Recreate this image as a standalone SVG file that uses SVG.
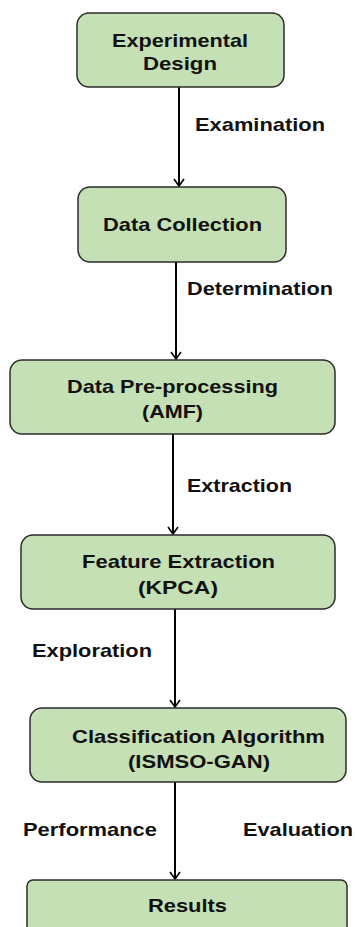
<svg xmlns="http://www.w3.org/2000/svg" width="355" height="927" viewBox="0 0 355 927">
  <defs>
    <marker id="arrow" viewBox="0 0 10 12" refX="9" refY="6" markerWidth="10" markerHeight="12" markerUnits="userSpaceOnUse" orient="auto">
      <polyline points="2,1 9,6 2,11" fill="none" stroke="#000" stroke-width="1.6"/>
    </marker>
  </defs>
  <style>
    .box { fill: #c5e0b4; stroke: #2b2b2b; stroke-width: 1.5; }
    .t { font-family: "Liberation Sans", Arial, sans-serif; font-weight: bold; font-size: 19px; fill: #111; }
    .edge { stroke: #000; stroke-width: 2; fill: none; }
  </style>
  <rect width="355" height="927" fill="#ffffff"/>

  <g id="connectors">
    <line class="edge" x1="179" y1="87" x2="179" y2="186" marker-end="url(#arrow)"/>
    <line class="edge" x1="176" y1="262" x2="176" y2="359" marker-end="url(#arrow)"/>
    <line class="edge" x1="173" y1="434" x2="173" y2="534" marker-end="url(#arrow)"/>
    <line class="edge" x1="175" y1="609" x2="175" y2="707" marker-end="url(#arrow)"/>
    <line class="edge" x1="175" y1="782" x2="175" y2="879" marker-end="url(#arrow)"/>
    <text class="t" x="195" y="131" textLength="130" lengthAdjust="spacingAndGlyphs">Examination</text>
    <text class="t" x="187" y="295" textLength="146" lengthAdjust="spacingAndGlyphs">Determination</text>
    <text class="t" x="187" y="492" textLength="105" lengthAdjust="spacingAndGlyphs">Extraction</text>
    <text class="t" x="32" y="657" textLength="120" lengthAdjust="spacingAndGlyphs">Exploration</text>
    <text class="t" x="23" y="836" textLength="134" lengthAdjust="spacingAndGlyphs">Performance</text>
    <text class="t" x="243" y="836" textLength="110" lengthAdjust="spacingAndGlyphs">Evaluation</text>
  </g>

  <g id="experimental-design">
    <rect class="box" x="77" y="13" width="207" height="74" rx="12"/>
    <text class="t" x="112" y="47" textLength="136" lengthAdjust="spacingAndGlyphs">Experimental</text>
    <text class="t" x="143" y="70" textLength="74" lengthAdjust="spacingAndGlyphs">Design</text>
  </g>

  <g id="data-collection">
    <rect class="box" x="78" y="187" width="208" height="75" rx="12"/>
    <text class="t" x="103" y="231" textLength="159" lengthAdjust="spacingAndGlyphs">Data Collection</text>
  </g>

  <g id="data-preprocessing">
    <rect class="box" x="10" y="360" width="325" height="74" rx="12"/>
    <text class="t" x="67" y="393" textLength="211" lengthAdjust="spacingAndGlyphs">Data Pre-processing</text>
    <text class="t" x="142" y="418" textLength="61" lengthAdjust="spacingAndGlyphs">(AMF)</text>
  </g>

  <g id="feature-extraction">
    <rect class="box" x="21" y="535" width="314" height="74" rx="12"/>
    <text class="t" x="82" y="568" textLength="193" lengthAdjust="spacingAndGlyphs">Feature Extraction</text>
    <text class="t" x="138" y="594" textLength="80" lengthAdjust="spacingAndGlyphs">(KPCA)</text>
  </g>

  <g id="classification">
    <rect class="box" x="30" y="708" width="316" height="74" rx="12"/>
    <text class="t" x="72" y="743" textLength="253" lengthAdjust="spacingAndGlyphs">Classification Algorithm</text>
    <text class="t" x="128" y="768" textLength="142" lengthAdjust="spacingAndGlyphs">(ISMSO-GAN)</text>
  </g>

  <g id="results">
    <rect class="box" x="27" y="880" width="320" height="60" rx="6"/>
    <text class="t" x="148" y="912" textLength="79" lengthAdjust="spacingAndGlyphs">Results</text>
  </g>
</svg>
